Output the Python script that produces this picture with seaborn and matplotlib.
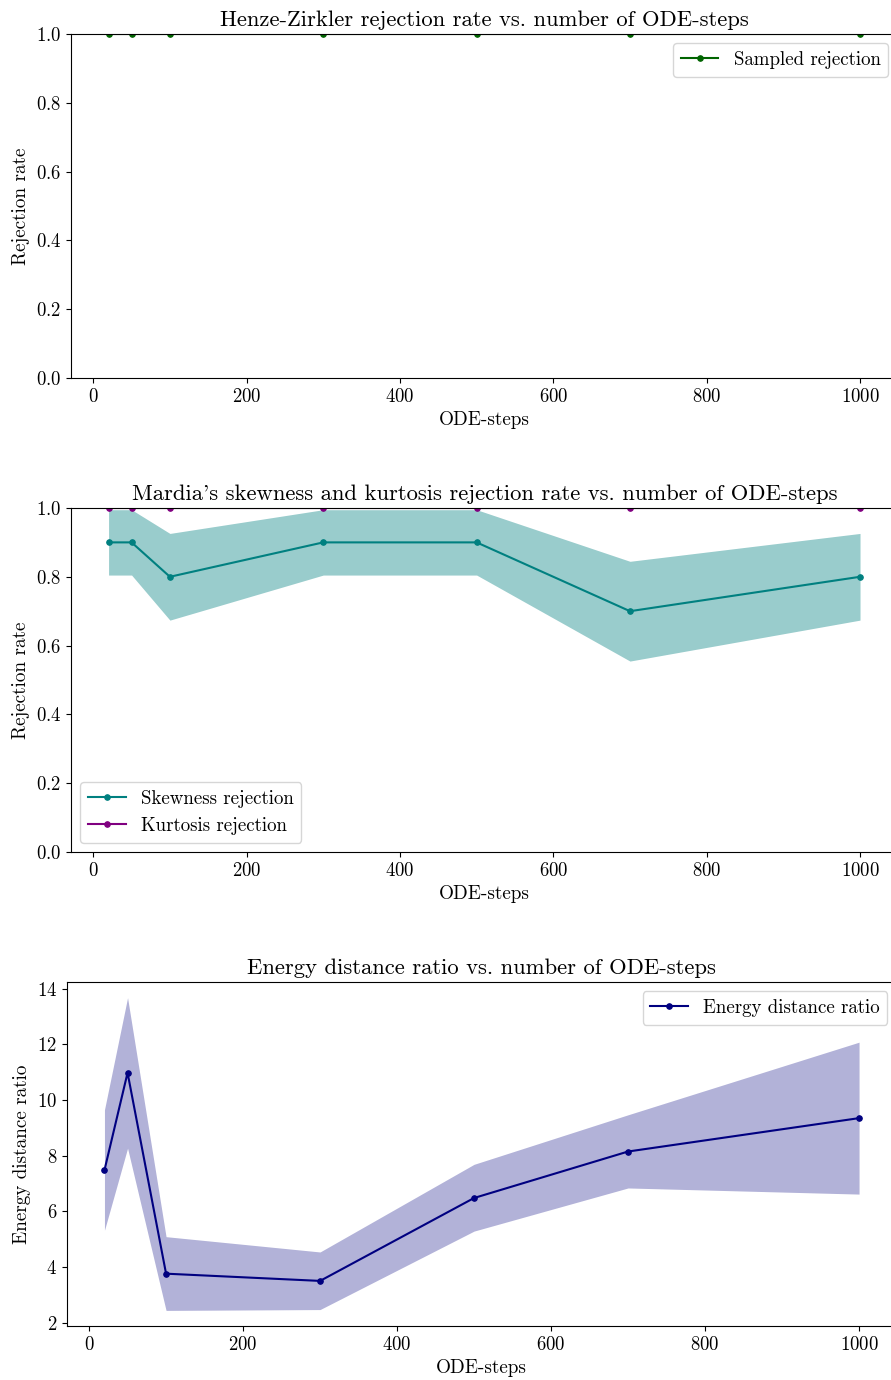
import numpy as np
import pandas as pd
import matplotlib
matplotlib.use("Agg")
import matplotlib.pyplot as plt
import seaborn as sns

plt.rcParams['font.family'] = 'serif'
plt.rcParams['font.serif'] = ['cmr10', 'DejaVu Serif']
plt.rcParams['mathtext.fontset'] = 'cm'
plt.rcParams['axes.formatter.use_mathtext'] = True
plt.rcParams['axes.unicode_minus'] = False

steps = [20, 50, 100, 300, 500, 700, 1000]

hz_rejection = [1.0, 1.0, 1.0, 1.0, 1.0, 1.0, 1.0]

skew_rejection = [0.9, 0.9, 0.8, 0.9, 0.9, 0.7, 0.8]
skew_lower = [0.805, 0.805, 0.674, 0.805, 0.805, 0.555, 0.674]
skew_upper = [0.995, 0.995, 0.926, 0.995, 0.995, 0.845, 0.926]
kurt_rejection = [1.0, 1.0, 1.0, 1.0, 1.0, 1.0, 1.0]

energy_ratio = [7.48, 10.98, 3.76, 3.50, 6.48, 8.15, 9.35]
energy_lower = [5.32, 8.27, 2.44, 2.47, 5.29, 6.84, 6.62]
energy_upper = [9.65, 13.68, 5.09, 4.54, 7.69, 9.47, 12.08]

TITLE = 16.3
LABEL = 13.8
TICK = 13.5
LEG = 13.6

fig = plt.figure(figsize=(8.91, 13.8), dpi=100)
ax1 = fig.add_axes([0.0797, 0.7261, 0.9277, 0.2493])
ax2 = fig.add_axes([0.0797, 0.3826, 0.9277, 0.2493])
ax3 = fig.add_axes([0.0749, 0.0391, 0.9316, 0.2493])

mk = dict(marker='o', markersize=4, linewidth=1.5)

# Top
sns.lineplot(x=steps, y=hz_rejection, ax=ax1, color='darkgreen',
             markeredgecolor='darkgreen', label='Sampled rejection', **mk)
ax1.set_ylim(0, 1.0)
ax1.set_title('Henze-Zirkler rejection rate vs. number of ODE-steps', fontsize=TITLE)
ax1.set_xlabel('ODE-steps', fontsize=LABEL)
ax1.set_ylabel('Rejection rate', fontsize=LABEL)
ax1.legend(loc='upper right', fontsize=LEG)

# Middle
ax2.fill_between(steps, skew_lower, skew_upper, color='teal', alpha=0.4, linewidth=0)
sns.lineplot(x=steps, y=skew_rejection, ax=ax2, color='teal',
             markeredgecolor='teal', label='Skewness rejection', **mk)
sns.lineplot(x=steps, y=kurt_rejection, ax=ax2, color='purple',
             markeredgecolor='purple', label='Kurtosis rejection', **mk)
ax2.set_ylim(0, 1.0)
ax2.set_title("Mardia's skewness and kurtosis rejection rate vs. number of ODE-steps", fontsize=TITLE)
ax2.set_xlabel('ODE-steps', fontsize=LABEL)
ax2.set_ylabel('Rejection rate', fontsize=LABEL)
ax2.legend(loc='lower left', fontsize=LEG)

# Bottom
ax3.fill_between(steps, energy_lower, energy_upper, color='navy', alpha=0.3, linewidth=0)
sns.lineplot(x=steps, y=energy_ratio, ax=ax3, color='navy',
             markeredgecolor='navy', label='Energy distance ratio', **mk)
ax3.set_title('Energy distance ratio vs. number of ODE-steps', fontsize=TITLE)
ax3.set_xlabel('ODE-steps', fontsize=LABEL)
ax3.set_ylabel('Energy distance ratio', fontsize=LABEL)
ax3.legend(loc='upper right', fontsize=LEG)

for ax in (ax1, ax2, ax3):
    ax.set_xticks([0, 200, 400, 600, 800, 1000])
    ax.tick_params(labelsize=TICK)

fig.savefig('out.png', dpi=100)
